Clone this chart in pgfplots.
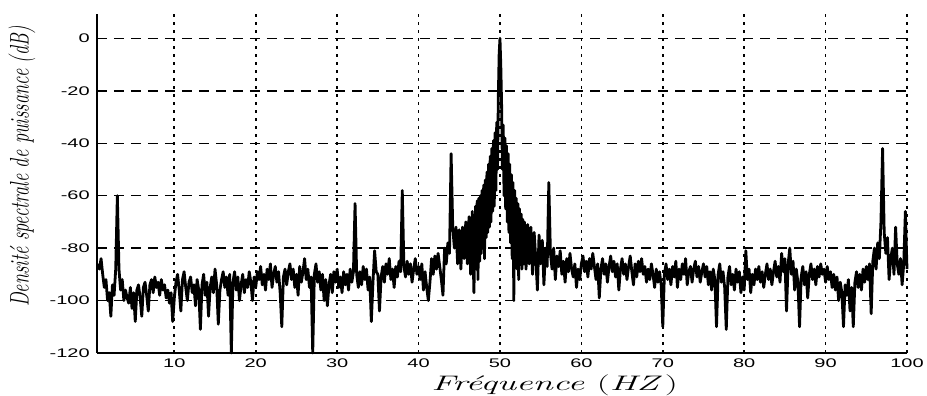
\documentclass[border=0pt]{standalone}
\usepackage{pgfplots}
\usepackage{pgfplotstable}
\usepackage{fontspec}
\pgfplotsset{compat=1.18}
\newfontfamily\ticks{Liberation Sans}
\pgfplotstableread{
x y
0.6 -86
0.8 -88
1.0 -84
1.2 -90
1.4 -95
1.6 -92
1.8 -100
2.0 -97
2.2 -106
2.4 -94
2.6 -98
2.8 -88
3.0 -60
3.2 -88
3.4 -96
3.6 -92
3.8 -100
4.0 -96
4.2 -99
4.4 -101
4.6 -95
4.8 -103
5.0 -97
5.2 -108
5.4 -96
5.6 -94
5.8 -99
6.0 -106
6.2 -95
6.4 -93
6.6 -98
6.8 -104
7.0 -94
7.2 -92
7.4 -97
7.6 -91
7.8 -95
8.0 -93
8.2 -98
8.4 -92
8.6 -96
8.8 -94
9.0 -99
9.2 -96
9.4 -101
9.6 -97
9.8 -108
10.0 -99
10.2 -93
10.4 -90
10.6 -96
10.8 -104
11.0 -92
11.2 -89
11.4 -95
11.6 -100
11.8 -93
12.0 -91
12.2 -97
12.4 -94
12.6 -102
12.8 -92
13.0 -96
13.2 -111
13.4 -94
13.6 -90
13.8 -98
14.0 -93
14.2 -106
14.4 -95
14.6 -91
14.8 -97
15.0 -88
15.2 -94
15.4 -109
15.6 -96
15.8 -92
16.0 -89
16.2 -95
16.4 -91
16.6 -98
16.8 -90
17.0 -120
17.2 -93
17.4 -89
17.6 -96
17.8 -91
18.0 -100
18.2 -94
18.4 -90
18.6 -97
18.8 -92
19.0 -95
19.2 -89
19.4 -93
19.6 -100
19.8 -91
20.0 -95
20.2 -89
20.4 -92
20.6 -87
20.8 -94
21.0 -90
21.2 -96
21.4 -88
21.6 -92
21.8 -86
22.0 -95
22.2 -90
22.4 -87
22.6 -93
22.8 -89
23.0 -97
23.2 -110
23.4 -91
23.6 -88
23.8 -94
24.0 -89
24.2 -86
24.4 -92
24.6 -88
24.8 -95
25.0 -90
25.2 -98
25.4 -87
25.6 -93
25.8 -89
26.0 -84
26.2 -92
26.4 -88
26.6 -95
26.8 -91
27.0 -120
27.2 -90
27.4 -86
27.6 -93
27.8 -89
28.0 -96
28.2 -90
28.4 -100
28.6 -92
28.8 -102
29.0 -94
29.2 -90
29.4 -97
29.6 -89
29.8 -93
30.0 -88
30.2 -95
30.4 -91
30.6 -97
30.8 -89
31.0 -94
31.2 -90
31.4 -96
31.6 -88
31.8 -93
32.0 -89
32.2 -63
32.4 -90
32.6 -95
32.8 -89
33.0 -94
33.2 -87
33.4 -92
33.6 -88
33.8 -96
34.0 -91
34.2 -108
34.4 -93
34.6 -81
34.8 -89
35.0 -90
35.2 -104
35.4 -91
35.6 -87
35.8 -93
36.0 -86
36.2 -90
36.4 -84
36.6 -92
36.8 -88
37.0 -95
37.2 -87
37.4 -91
37.6 -85
37.8 -89
38.0 -58
38.2 -87
38.4 -91
38.6 -85
38.8 -90
39.0 -86
39.2 -93
39.4 -88
39.6 -84
39.8 -90
40.0 -87
40.2 -92
40.4 -86
40.6 -96
40.8 -89
41.0 -95
41.2 -100
41.4 -93
41.6 -84
41.8 -90
42.0 -83
42.2 -88
42.4 -82
42.6 -87
42.8 -92
43.0 -98
43.2 -80
43.4 -86
43.6 -78
43.8 -82
44.0 -44
44.2 -72
44.4 -80
44.6 -72
44.8 -86
45.0 -73
45.2 -88
45.4 -72
45.6 -84
45.8 -70
46.0 -86
46.2 -68
46.4 -90
46.6 -66
46.8 -97
47.0 -64
47.1 -88
47.2 -62
47.3 -92
47.4 -61
47.5 -85
47.6 -60
47.7 -82
47.8 -58
47.9 -80
48.0 -56
48.1 -84
48.2 -54
48.3 -76
48.4 -51
48.5 -74
48.6 -48
48.7 -72
48.8 -45
48.9 -70
49.0 -42
49.1 -66
49.2 -39
49.3 -64
49.4 -36
49.5 -58
49.6 -32
49.7 -50
49.8 -22
49.9 -6
50.0 0
50.1 -10
50.2 -25
50.3 -50
50.4 -33
50.5 -60
50.6 -38
50.7 -65
50.8 -41
50.9 -70
51.0 -44
51.1 -74
51.2 -48
51.3 -78
51.4 -52
51.5 -84
51.6 -55
51.7 -100
51.8 -58
51.9 -86
52.0 -61
52.1 -88
52.2 -63
52.3 -92
52.4 -65
52.5 -84
52.6 -67
52.7 -88
52.8 -69
52.9 -86
53.0 -70
53.2 -88
53.4 -71
53.6 -86
53.8 -72
54.0 -90
54.2 -74
54.4 -84
54.6 -96
54.8 -75
55.0 -86
55.2 -77
55.4 -94
55.6 -80
55.8 -87
56.0 -55
56.2 -82
56.4 -88
56.6 -80
56.8 -92
57.0 -83
57.2 -87
57.4 -81
57.6 -90
57.8 -85
58.0 -93
58.2 -84
58.4 -89
58.6 -82
58.8 -88
59.0 -91
59.2 -86
59.4 -95
59.6 -88
59.8 -92
60.0 -86
60.2 -83
60.4 -89
60.6 -85
60.8 -91
61.0 -84
61.2 -88
61.4 -82
61.6 -87
61.8 -92
62.0 -86
62.2 -99
62.4 -88
62.6 -84
62.8 -90
63.0 -86
63.2 -93
63.4 -87
63.6 -83
63.8 -89
64.0 -85
64.2 -91
64.4 -86
64.6 -96
64.8 -88
65.0 -84
65.2 -90
65.4 -86
65.6 -92
65.8 -87
66.0 -83
66.2 -89
66.4 -94
66.6 -86
66.8 -91
67.0 -85
67.2 -89
67.4 -84
67.6 -90
67.8 -87
68.0 -93
68.2 -88
68.4 -92
68.6 -86
68.8 -90
69.0 -95
69.2 -88
69.4 -93
69.6 -89
69.8 -94
70.0 -110
70.2 -90
70.4 -86
70.6 -92
70.8 -88
71.0 -94
71.2 -87
71.4 -91
71.6 -85
71.8 -95
72.0 -88
72.2 -92
72.4 -86
72.6 -90
72.8 -84
73.0 -94
73.2 -89
73.4 -87
73.6 -93
73.8 -88
74.0 -85
74.2 -91
74.4 -87
74.6 -93
74.8 -89
75.0 -86
75.2 -91
75.4 -87
75.6 -94
75.8 -89
76.0 -96
76.2 -88
76.4 -92
76.6 -110
76.8 -90
77.0 -86
77.2 -93
77.4 -89
77.6 -95
77.8 -111
78.0 -91
78.2 -87
78.4 -94
78.6 -90
78.8 -96
79.0 -88
79.2 -93
79.4 -89
79.6 -97
79.8 -91
80.0 -96
80.2 -81
80.4 -92
80.6 -88
80.8 -97
81.0 -90
81.2 -94
81.4 -88
81.6 -92
81.8 -87
82.0 -93
82.2 -89
82.4 -95
82.6 -90
82.8 -86
83.0 -92
83.2 -88
83.4 -94
83.6 -89
83.8 -85
84.0 -91
84.2 -87
84.4 -93
84.6 -82
84.8 -89
85.0 -84
85.2 -104
85.4 -86
85.6 -80
85.8 -90
86.0 -85
86.2 -96
86.4 -88
86.6 -93
86.8 -110
87.0 -91
87.2 -87
87.4 -94
87.6 -89
87.8 -99
88.0 -90
88.2 -86
88.4 -92
88.6 -88
88.8 -94
89.0 -87
89.2 -91
89.4 -86
89.6 -90
89.8 -88
90.0 -93
90.2 -87
90.4 -92
90.6 -89
90.8 -95
91.0 -90
91.2 -96
91.4 -91
91.6 -100
91.8 -93
92.0 -97
92.2 -110
92.4 -94
92.6 -98
92.8 -92
93.0 -104
93.2 -95
93.4 -110
93.6 -93
93.8 -89
94.0 -95
94.2 -90
94.4 -96
94.6 -88
94.8 -93
95.0 -87
95.2 -92
95.4 -86
95.6 -105
95.8 -85
96.0 -80
96.2 -88
96.4 -78
96.6 -84
96.8 -70
97.0 -42
97.2 -74
97.4 -82
97.6 -76
97.8 -92
98.0 -84
98.2 -80
98.4 -90
98.6 -72
98.8 -86
99.0 -90
99.2 -84
99.4 -94
99.6 -86
99.8 -66
100.0 -88
}\spec
\begin{document}
\begin{tikzpicture}
\useasboundingbox (-97pt,-43pt) rectangle (830pt,353pt);
\begin{axis}[
  scale only axis,
  width=810pt, height=339pt,
  xmin=0.5, xmax=100, ymin=-120, ymax=9.3,
  axis x line=bottom, axis y line=left,
  axis line style={-, line width=1.8pt},
  xtick={10,20,30,40,50,60,70,80,90,100},
  ytick={-120,-100,-80,-60,-40,-20,0},
  major tick length=0pt,
  grid=major,
  x grid style={black, line width=1.7pt, dash pattern=on 3pt off 5pt},
  y grid style={black, line width=1.4pt, dash pattern=on 10pt off 7pt},
  /pgf/number format/assume math mode=true,
  ticklabel style={font=\ticks\fontsize{12.5}{14}\selectfont, xscale=1.6},
  xticklabel style={yshift=-2pt},
  yticklabel style={xshift=-1pt},
  clip=false,
]
\addplot[black, line width=2.8pt, line join=round] table[x=x, y=y] {\spec};
\node[rotate=90, anchor=center] at (axis description cs:-0.0926,0.55)
  {\scalebox{1}[1.45]{\fontsize{18.5}{22}\selectfont\itshape Densité spectrale de puissance (dB)}};
\node[anchor=center] at (axis description cs:0.565,-0.094)
  {\scalebox{1.75}[1]{\fontsize{21}{24}\selectfont\itshape Fréquence \upshape(\itshape HZ\,\upshape)}};
\end{axis}
\end{tikzpicture}
\end{document}
